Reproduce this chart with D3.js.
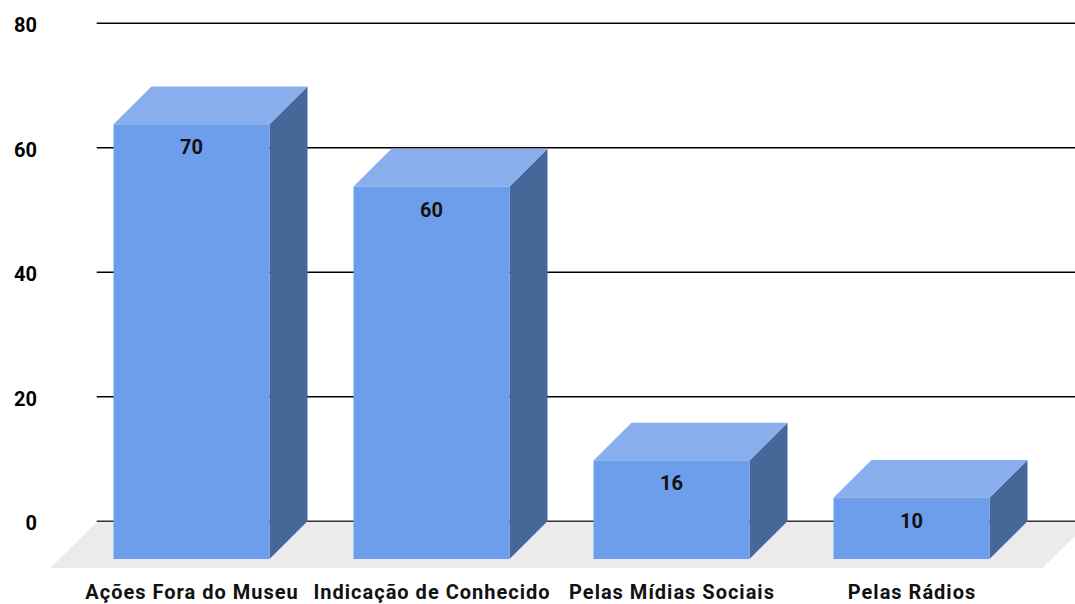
<!DOCTYPE html>
<html>
<head>
<meta charset="utf-8">
<script src="https://cdn.jsdelivr.net/npm/d3@7"></script>
<style>
  html, body { margin: 0; padding: 0; background: #fff; }
  svg { display: block; font-family: Roboto, "Noto Sans", sans-serif; }
</style>
</head>
<body>
<svg id="chart" width="1075" height="604"></svg>
<script>
// Data
const categories = ["Ações Fora do Museu", "Indicação de Conhecido", "Pelas Mídias Sociais", "Pelas Rádios"];
const values = [70, 60, 16, 10];
const yTicks = [0, 20, 40, 60, 80];

const W = 1075, H = 604;
const svg = d3.select("#chart");

// 3D depth offset of the bars and the floor
const depthX = 38, depthY = 37.7;
const floorDepth = 47;

const y = d3.scaleLinear().domain([0, 80]).range([521.3, 23.3]);
const x = d3.scaleBand().domain(categories)
  .range([71.5, 1031.5]).paddingInner(0.35).paddingOuter(0.175);

const gridLeft = 96.7, gridRight = 1089;
const base = y(0);

// Floor
svg.append("polygon")
  .attr("points", [
    [gridLeft, base + 1], [gridRight, base + 1],
    [gridRight - floorDepth, base + floorDepth], [gridLeft - floorDepth, base + floorDepth]
  ].map(p => p.join(",")).join(" "))
  .attr("fill", "#ebebeb");

// Gridlines
svg.append("g").selectAll("line").data(yTicks).join("line")
  .attr("x1", gridLeft).attr("x2", W)
  .attr("y1", d => y(d)).attr("y2", d => y(d))
  .attr("stroke", d => d === 0 ? "#333" : "#000")
  .attr("stroke-width", 1.4);

// Y axis labels
svg.append("g").selectAll("text").data(yTicks).join("text")
  .attr("x", 37).attr("y", d => y(d) + 9)
  .attr("text-anchor", "end")
  .attr("font-size", 20).attr("font-weight", 700).attr("fill", "#000")
  .text(d => d);

// Bars
const frontBase = base + depthY;
const bars = svg.append("g").selectAll("g").data(values.map((v, i) => ({ v, c: categories[i] }))).join("g");

bars.each(function (d) {
  const g = d3.select(this);
  const x0 = x(d.c), w = x.bandwidth();
  const top = y(d.v) + 1 + depthY;
  const pts = a => a.map(p => p.join(",")).join(" ");
  // side
  g.append("polygon")
    .attr("points", pts([[x0 + w, top], [x0 + w + depthX, top - depthY], [x0 + w + depthX, frontBase - depthY], [x0 + w, frontBase]]))
    .attr("fill", "#466899");
  // top
  g.append("polygon")
    .attr("points", pts([[x0, top], [x0 + depthX, top - depthY], [x0 + w + depthX, top - depthY], [x0 + w, top]]))
    .attr("fill", "#89aeee");
  // front
  g.append("rect")
    .attr("x", x0).attr("y", top).attr("width", w).attr("height", frontBase - top)
    .attr("fill", "#6d9eeb");
  // value label
  g.append("text")
    .attr("x", x0 + w / 2).attr("y", top + 30)
    .attr("text-anchor", "middle")
    .attr("font-size", 20).attr("font-weight", 700).attr("fill", "#111")
    .text(d.v);
});

// Category labels
svg.append("g").selectAll("text").data(categories).join("text")
  .attr("x", d => x(d) + x.bandwidth() / 2 + 0.5).attr("y", 599.3)
  .attr("text-anchor", "middle")
  .attr("font-size", 20).attr("font-weight", 700).attr("fill", "#111")
  .attr("letter-spacing", 1)
  .text(d => d);
</script>
</body>
</html>
